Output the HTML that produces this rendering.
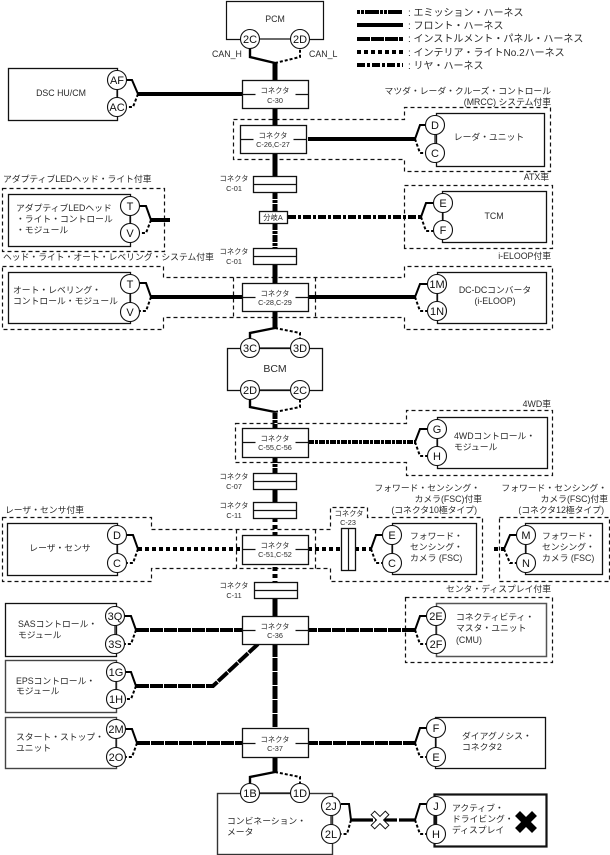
<!DOCTYPE html>
<html><head><meta charset="utf-8"><style>
html,body{margin:0;padding:0;background:#fff}
svg{display:block}
text{font-family:"Liberation Sans","Noto Sans CJK JP",sans-serif;fill:#2a2a2a;font-size:8.8px}
.b{fill:#fff;stroke:#111;stroke-width:1.3}
.n{fill:none;stroke:#111;stroke-width:1.2}
.d{fill:none;stroke:#111;stroke-width:1.2;stroke-dasharray:4 3}
.c{fill:#fff;stroke:#111;stroke-width:1.1}
.s{font-size:7.3px;text-anchor:middle}
.m{text-anchor:middle}
.e{text-anchor:end}
.k{font-size:11px;text-anchor:middle;fill:#111}
.w{fill:none;stroke:#000;stroke-width:4}
.f{fill:none;stroke:#000;stroke-width:2}
.fd{fill:none;stroke:#000;stroke-width:2;stroke-dasharray:3 2}
.em{stroke-dasharray:6 1 3 1}
.eml{stroke-dasharray:3 1 3 1 14 1}
.in{stroke-dasharray:13 1}
.it{stroke-dasharray:4 3}
.re{stroke-dasharray:8 2 3 2}
.tr{stroke-dasharray:7 1 3 1}
.lg{font-size:10px}
</style></head><body>
<svg xmlns="http://www.w3.org/2000/svg" width="610" height="855" viewBox="0 0 610 855">
<rect width="610" height="855" fill="#fff"/>

<!-- optional regions -->
<g transform="translate(.5 .5)">
<path class="d" d="M233 119H404V107H550V171H404V159H233Z"/>
<path class="d" d="M404 248V185H552V248Z"/>
<path class="d" d="M2 188H164V251H2Z"/>
<path class="d" d="M2 266H163V277H404V266H552V329H404V317H163V329H2Z"/>
<path class="d" d="M233 277V317M315 277V317"/>
<path class="d" d="M235 423H406V410H552V475H406V462H235Z"/>
<path class="d" d="M2 517H151V529H330V507H367V517H482V581H330V568H151V581H2Z"/>
<path class="d" d="M236 529V569M315 529V569"/>
<path class="d" d="M499 517H609V581H499Z"/>
<path class="d" d="M405 597H552V662H405Z"/>
</g>

<!-- device boxes -->
<g transform="translate(.5 .5)">
<path class="n" d="M240 39H226V1H323V39H309"/>
<rect class="b" x="8" y="68" width="109" height="52"/>
<rect class="b" x="436" y="113" width="108" height="53"/>
<rect class="b" x="442" y="191" width="104" height="51"/>
<rect class="b" x="8" y="194" width="122" height="52"/>
<rect class="b" x="8" y="272" width="122" height="51"/>
<rect class="b" x="437" y="272" width="109" height="51"/>
<rect class="b" x="227" y="348" width="95" height="42"/>
<rect class="b" x="437" y="417" width="110" height="51"/>
<rect class="b" x="7" y="523" width="110" height="52"/>
<rect class="b" x="392" y="523" width="84" height="51"/>
<rect class="b" x="525" y="523" width="77" height="51"/>
<rect class="b" x="5" y="603" width="111" height="53"/>
<rect class="b" x="436" y="603" width="110" height="53" style="stroke:#555;stroke-width:1.5"/>
<rect class="b" x="5" y="660" width="111" height="52" style="stroke:#444;stroke-width:1.4"/>
<rect class="b" x="5" y="717" width="111" height="51" style="stroke:#444;stroke-width:1.4"/>
<rect class="b" x="435" y="717" width="110" height="51"/>
<rect class="b" x="217" y="793" width="115" height="61" style="stroke:#333;stroke-width:1.4"/>
<rect class="b" x="434" y="794" width="112" height="52" style="stroke-width:2.2"/>
</g>

<!-- trunk -->
<path class="w" style="stroke-width:5" d="M275 63V176"/>
<path class="w tr" style="stroke-width:5" d="M275 192V211"/>
<path class="w tr" style="stroke-width:5" d="M275 223V248"/>
<path class="w" style="stroke-width:5" d="M275 264V328"/>
<path class="w em" style="stroke-width:5" d="M275 413V473"/>
<path class="w" style="stroke-width:5" d="M275 489V502"/>
<path class="w it" style="stroke-width:5" d="M275 518V582"/>
<path class="w" style="stroke-width:5" d="M275 598V616"/>
<path class="w in" style="stroke-width:5" d="M275 644V728"/>
<path class="w" style="stroke-width:5" d="M275 757V772"/>

<!-- top/bottom forks -->
<path class="f" style="stroke-width:2.4" d="M275 63L250 57V48"/><path class="fd" d="M275 63L300 57V48"/>
<path class="f" style="stroke-width:2.4" d="M275 328L250 333V340"/><path class="fd" d="M275 328L300 333V340"/>
<path class="f" style="stroke-width:2.4" d="M275 412L250 407V399"/><path class="fd" d="M275 412L300 407V399"/>
<path class="f" style="stroke-width:2.4" d="M275 772L250 777V784"/><path class="fd" d="M275 772L300 777V784"/>

<!-- horizontal wires -->
<path class="w" d="M138 94H242"/>
<path class="w" d="M308 139H415"/>
<path class="w re" d="M288 217H421"/>
<path class="w" d="M151 220H170"/>
<path class="w" d="M151 297H415"/>
<path class="w em" d="M308 442H415"/>
<path class="w it" d="M138 549H242"/>
<path class="w it" d="M308 549H341"/>
<path class="w it" d="M355 549H371"/>
<path class="w it" d="M494 549H504"/>
<path class="w in" d="M136 630H415"/>
<path class="w in" d="M136 686H213L258 644"/>
<path class="w in" d="M137 743H415"/>
<path class="w" style="stroke-width:3.2;stroke-dasharray:22 2" d="M351 820H415"/>

<!-- side forks: left devices -->
<path class="f" d="M125 80H132L138 94"/><path class="fd" d="M138 94L133 107H125"/>
<path class="f" d="M139 206H146L151 220"/><path class="fd" d="M151 220L146 233H139"/>
<path class="f" d="M139 283H146L151 297"/><path class="fd" d="M151 297L146 311H139"/>
<path class="f" d="M125 535H133L138 549"/><path class="fd" d="M138 549L133 563H125"/>
<path class="f" d="M124 616H131L136 630"/><path class="fd" d="M136 630L131 644H124"/>
<path class="f" d="M124 672H131L136 686"/><path class="fd" d="M136 686L131 699H124"/>
<path class="f" d="M125 729H132L137 743"/><path class="fd" d="M137 743L132 757H125"/>
<path class="f" d="M341 804H349L351 820"/><path class="fd" d="M351 820L347 834H341"/>

<!-- side forks: right devices -->
<path class="f" d="M415 139L420 125H427"/><path class="fd" d="M415 139L420 153H427"/>
<path class="f" d="M421 217L426 203H434"/><path class="fd" d="M421 217L426 231H434"/>
<path class="f" d="M415 297L420 284H428"/><path class="fd" d="M415 297L420 311H428"/>
<path class="f" d="M415 442L420 429H428"/><path class="fd" d="M415 442L420 456H428"/>
<path class="f" d="M371 549L376 535H383"/><path class="fd" d="M371 549L376 563H383"/>
<path class="f" d="M504 549L510 535H517"/><path class="fd" d="M504 549L510 563H517"/>
<path class="f" d="M415 630L420 616H427"/><path class="fd" d="M415 630L420 644H427"/>
<path class="f" d="M415 743L420 728H427"/><path class="fd" d="M415 743L420 757H427"/>
<path class="f" d="M415 820L420 804H427"/><path class="fd" d="M415 820L420 834H427"/>

<!-- links between paired pins -->
<path class="n" d="M117 80V107M435 125V153M443 203V230M130 206V233M130 284V312M437 284V311M437 429V456M117 535V563M392 535V563M526 535V563M115 616V644M116 672V699M116 729V757M436 616V644M436 728V757M331 806V834"/>
<path class="n" d="M259 348H291M259 390H291M260 39H290M259 793H290"/>
<path class="n" style="stroke-width:2.4" d="M436 806V834"/>

<!-- connectors with side ticks -->
<g transform="translate(.5 .5)">
<rect class="b" x="242" y="80" width="66" height="28"/><path class="n" d="M242 94H255M295 94H308"/>
<rect class="b" x="240" y="125" width="66" height="28"/><path class="n" d="M240 139H253M293 139H306"/>
<rect class="b" x="242" y="283" width="66" height="28"/><path class="n" d="M242 297H255M295 297H308"/>
<rect class="b" x="242" y="428" width="66" height="29"/><path class="n" d="M242 442H255M295 442H308"/>
<rect class="b" x="242" y="535" width="66" height="29"/><path class="n" d="M242 549H255M295 549H308"/>
<rect class="b" x="242" y="616" width="66" height="28"/><path class="n" d="M242 630H255M295 630H308"/>
<rect class="b" x="242" y="728" width="66" height="29"/><path class="n" d="M242 743H255M295 743H308"/>
<rect class="b" x="253" y="176" width="43" height="16"/><path class="n" d="M253 184H296"/>
<rect class="b" x="253" y="248" width="43" height="16"/><path class="n" d="M253 256H296"/>
<rect class="b" x="253" y="473" width="43" height="16"/><path class="n" d="M253 481H296"/>
<rect class="b" x="253" y="502" width="43" height="16"/><path class="n" d="M253 510H296"/>
<rect class="b" x="254" y="582" width="43" height="16"/><path class="n" d="M254 590H297"/>
<rect class="b" x="341" y="528" width="14" height="42"/><path class="n" d="M348 528V570"/>
<rect class="b" x="259" y="211" width="28" height="12"/>
</g>

<!-- pins -->
<g>
<circle class="c" cx="250" cy="39" r="9.5"/><circle class="c" cx="300" cy="39" r="9.5"/>
<circle class="c" cx="117" cy="80" r="9.5"/><circle class="c" cx="117" cy="107" r="9.5"/>
<circle class="c" cx="435" cy="125" r="9.5"/><circle class="c" cx="435" cy="153" r="9.5"/>
<circle class="c" cx="443" cy="203" r="9.5"/><circle class="c" cx="443" cy="230" r="9.5"/>
<circle class="c" cx="130" cy="206" r="9.5"/><circle class="c" cx="130" cy="233" r="9.5"/>
<circle class="c" cx="130" cy="284" r="9.5"/><circle class="c" cx="130" cy="312" r="9.5"/>
<circle class="c" cx="437" cy="284" r="9.5"/><circle class="c" cx="437" cy="311" r="9.5"/>
<circle class="c" cx="250" cy="348" r="9.5"/><circle class="c" cx="300" cy="348" r="9.5"/>
<circle class="c" cx="250" cy="390" r="9.5"/><circle class="c" cx="300" cy="390" r="9.5"/>
<circle class="c" cx="437" cy="429" r="9.5"/><circle class="c" cx="437" cy="456" r="9.5"/>
<circle class="c" cx="117" cy="535" r="9.5"/><circle class="c" cx="117" cy="563" r="9.5"/>
<circle class="c" cx="392" cy="535" r="9.5"/><circle class="c" cx="392" cy="563" r="9.5"/>
<circle class="c" cx="526" cy="535" r="9.5"/><circle class="c" cx="526" cy="563" r="9.5"/>
<circle class="c" cx="115" cy="616" r="9.5"/><circle class="c" cx="115" cy="644" r="9.5"/>
<circle class="c" cx="116" cy="672" r="9.5"/><circle class="c" cx="116" cy="699" r="9.5"/>
<circle class="c" cx="116" cy="729" r="9.5"/><circle class="c" cx="116" cy="757" r="9.5"/>
<circle class="c" cx="436" cy="616" r="9.5"/><circle class="c" cx="436" cy="644" r="9.5"/>
<circle class="c" cx="436" cy="728" r="9.5"/><circle class="c" cx="436" cy="757" r="9.5"/>
<circle class="c" cx="250" cy="793" r="9.5"/><circle class="c" cx="300" cy="793" r="9.5"/>
<circle class="c" cx="331" cy="806" r="9.5"/><circle class="c" cx="331" cy="834" r="9.5"/>
<circle class="c" cx="436" cy="806" r="9.5"/><circle class="c" cx="436" cy="834" r="9.5"/>
</g>
<g>
<text class="k" x="250" y="43">2C</text><text class="k" x="300" y="43">2D</text>
<text class="k" x="117" y="84">AF</text><text class="k" x="117" y="111">AC</text>
<text class="k" x="435" y="129">D</text><text class="k" x="435" y="157">C</text>
<text class="k" x="443" y="207">E</text><text class="k" x="443" y="234">F</text>
<text class="k" x="130" y="210">T</text><text class="k" x="130" y="237">V</text>
<text class="k" x="130" y="288">T</text><text class="k" x="130" y="316">V</text>
<text class="k" x="437" y="288">1M</text><text class="k" x="437" y="315">1N</text>
<text class="k" x="250" y="352">3C</text><text class="k" x="300" y="352">3D</text>
<text class="k" x="250" y="394">2D</text><text class="k" x="300" y="394">2C</text>
<text class="k" x="437" y="433">G</text><text class="k" x="437" y="460">H</text>
<text class="k" x="117" y="539">D</text><text class="k" x="117" y="567">C</text>
<text class="k" x="392" y="539">E</text><text class="k" x="392" y="567">C</text>
<text class="k" x="526" y="539">M</text><text class="k" x="526" y="567">N</text>
<text class="k" x="115" y="620">3Q</text><text class="k" x="115" y="648">3S</text>
<text class="k" x="116" y="676">1G</text><text class="k" x="116" y="703">1H</text>
<text class="k" x="116" y="733">2M</text><text class="k" x="116" y="761">2O</text>
<text class="k" x="436" y="620">2E</text><text class="k" x="436" y="648">2F</text>
<text class="k" x="436" y="732">F</text><text class="k" x="436" y="761">E</text>
<text class="k" x="250" y="797">1B</text><text class="k" x="300" y="797">1D</text>
<text class="k" x="331" y="810">2J</text><text class="k" x="331" y="838">2L</text>
<text class="k" x="436" y="810">J</text><text class="k" x="436" y="838">H</text>
</g>

<!-- connector labels -->
<text class="s" x="275" y="93">コネクタ</text><text class="s" x="275" y="103">C-30</text>
<text class="s" x="273" y="138">コネクタ</text><text class="s" x="273" y="147">C-26,C-27</text>
<text class="s" x="275" y="296">コネクタ</text><text class="s" x="275" y="305">C-28,C-29</text>
<text class="s" x="275" y="441">コネクタ</text><text class="s" x="275" y="450">C-55,C-56</text>
<text class="s" x="275" y="548">コネクタ</text><text class="s" x="275" y="557">C-51,C-52</text>
<text class="s" x="275" y="629">コネクタ</text><text class="s" x="275" y="638">C-36</text>
<text class="s" x="275" y="742">コネクタ</text><text class="s" x="275" y="751">C-37</text>
<text class="s" x="234" y="181">コネクタ</text><text class="s" x="234" y="191">C-01</text>
<text class="s" x="234" y="254">コネクタ</text><text class="s" x="234" y="264">C-01</text>
<text class="s" x="234" y="479">コネクタ</text><text class="s" x="234" y="489">C-07</text>
<text class="s" x="234" y="508">コネクタ</text><text class="s" x="234" y="518">C-11</text>
<text class="s" x="234" y="588">コネクタ</text><text class="s" x="234" y="598">C-11</text>
<text class="s" x="349" y="516">コネクタ</text><text class="s" x="348" y="525">C-23</text>
<text class="s" x="273" y="220">分岐A</text>

<!-- device text -->
<text class="m" x="275" y="22">PCM</text>
<text x="212" y="57">CAN_H</text>
<text x="309" y="57">CAN_L</text>
<text class="m" x="61" y="96">DSC HU/CM</text>
<text class="m" x="489" y="140">レーダ・ユニット</text>
<text class="m" x="494" y="219">TCM</text>
<text x="16" y="211">アダプティブLEDヘッド</text>
<text x="16" y="222">・ライト・コントロール</text>
<text x="16" y="233">・モジュール</text>
<text x="13" y="293">オート・レベリング・</text>
<text x="13" y="304">コントロール・モジュール</text>
<text class="m" x="495" y="293">DC-DCコンバータ</text>
<text class="m" x="495" y="304">(i-ELOOP)</text>
<text class="m" x="275" y="372" style="font-size:10.5px">BCM</text>
<text x="454" y="439">4WDコントロール・</text>
<text x="454" y="450">モジュール</text>
<text class="m" x="60" y="551">レーザ・センサ</text>
<text x="410" y="539">フォワード・</text>
<text x="410" y="550">センシング・</text>
<text x="410" y="561">カメラ (FSC)</text>
<text x="542" y="539">フォワード・</text>
<text x="542" y="550">センシング・</text>
<text x="542" y="561">カメラ (FSC)</text>
<text x="18" y="627">SASコントロール・</text>
<text x="18" y="638">モジュール</text>
<text x="456" y="620">コネクティビティ・</text>
<text x="456" y="631">マスタ・ユニット</text>
<text x="456" y="643">(CMU)</text>
<text x="16" y="684">EPSコントロール・</text>
<text x="16" y="694">モジュール</text>
<text x="16" y="740">スタート・ストップ・</text>
<text x="16" y="751">ユニット</text>
<text x="462" y="739">ダイアグノシス・</text>
<text x="462" y="750">コネクタ2</text>
<text x="227" y="824">コンビネーション・</text>
<text x="227" y="835">メータ</text>
<text x="452" y="811">アクティブ・</text>
<text x="452" y="822">ドライビング・</text>
<text x="452" y="833">ディスプレイ</text>

<!-- region captions -->
<text class="e" x="551" y="94">マツダ・レーダ・クルーズ・コントロール</text>
<text class="e" x="551" y="105">(MRCC) システム付車</text>
<text class="e" x="549" y="180">ATX車</text>
<text x="3" y="182">アダプティブLEDヘッド・ライト付車</text>
<text x="3" y="260">ヘッド・ライト・オート・レベリング・システム付車</text>
<text class="e" x="551" y="259">i-ELOOP付車</text>
<text class="e" x="551" y="407">4WD車</text>
<text x="5" y="513">レーザ・センサ付車</text>
<text class="e" x="480" y="491">フォワード・センシング・</text>
<text class="e" x="482" y="502">カメラ(FSC)付車</text>
<text class="e" x="477" y="513">(コネクタ10極タイプ)</text>
<text class="e" x="607" y="491">フォワード・センシング・</text>
<text class="e" x="608" y="502">カメラ(FSC)付車</text>
<text class="e" x="604" y="513">(コネクタ12極タイプ)</text>
<text class="e" x="551" y="592">センタ・ディスプレイ付車</text>

<!-- X marks -->
<g transform="translate(380 820) rotate(45)"><path d="M-2.5 -10H2.5V-2.5H10V2.5H2.5V10H-2.5V2.5H-10V-2.5H-2.5Z" fill="#fff" stroke="#111" stroke-width="1"/></g>
<g transform="translate(526 822) rotate(45)"><path d="M-3.5 -12H3.5V-3.5H12V3.5H3.5V12H-3.5V3.5H-12V-3.5H-3.5Z" fill="#000"/></g>

<!-- legend -->
<path class="w eml" d="M357 12H403"/>
<path class="w" d="M357 25H403"/>
<path class="w in" d="M357 39H403"/>
<path class="w it" d="M357 52H403"/>
<path class="w re" d="M357 65H403"/>
<text class="lg" x="408" y="16">: エミッション・ハーネス</text>
<text class="lg" x="408" y="29">: フロント・ハーネス</text>
<text class="lg" x="408" y="42">: インストルメント・パネル・ハーネス</text>
<text class="lg" x="408" y="56">: インテリア・ライトNo.2ハーネス</text>
<text class="lg" x="408" y="69">: リヤ・ハーネス</text>
</svg>
</body></html>
